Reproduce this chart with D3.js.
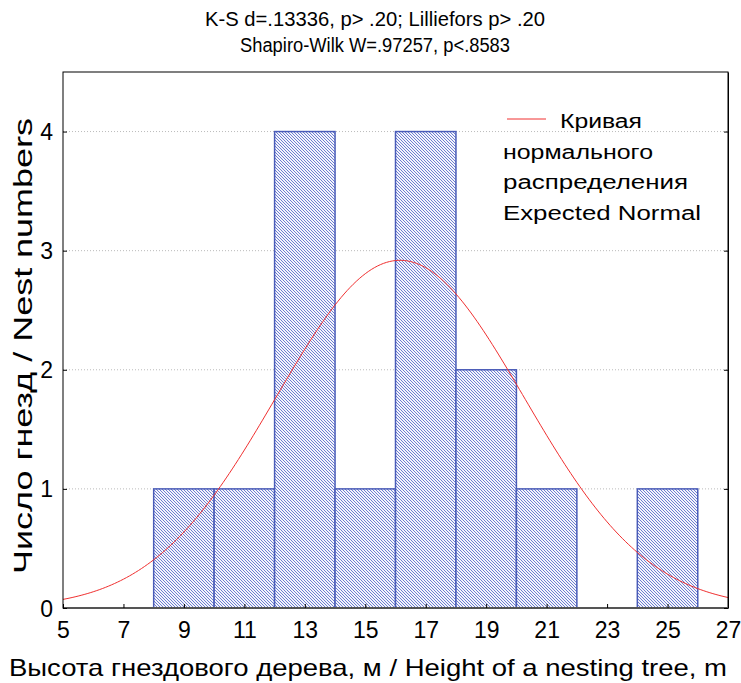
<!DOCTYPE html>
<html>
<head>
<meta charset="utf-8">
<script src="https://cdn.jsdelivr.net/npm/d3@7"></script>
<style>
  body { margin: 0; background: #fff; }
  svg { font-family: "Liberation Sans", Arial, sans-serif; }
</style>
</head>
<body>
<div id="chart"></div>
<script>
// Histogram bins (height of nesting tree, m) and nest counts
const binStarts = [8, 10, 12, 14, 16, 18, 20, 22, 24];
const binWidth = 2;
const counts = [1, 1, 4, 1, 4, 2, 1, 0, 1];
const xTicks = [5, 7, 9, 11, 13, 15, 17, 19, 21, 23, 25, 27];
const yTicks = [0, 1, 2, 3, 4];
// fitted normal curve parameters
const fitMean = 16.15;
const fitSd = 4.1;
const titleLines = ["K-S d=.13336, p> .20; Lilliefors p> .20", "Shapiro-Wilk W=.97257, p<.8583"];
const legendLines = ["Кривая", "нормального", "распределения", "Expected Normal"];

const width = 741, height = 683;
const margins = { top: 72, right: 13, bottom: 75, left: 63 };
const innerWidth = width - margins.left - margins.right;
const innerHeight = height - margins.top - margins.bottom;

const svg = d3.select("#chart").append("svg")
  .attr("width", width)
  .attr("height", height);

const defs = svg.append("defs");
const pat = defs.append("pattern")
  .attr("id", "hatch")
  .attr("patternUnits", "userSpaceOnUse")
  .attr("width", 3)
  .attr("height", 3);
pat.append("rect").attr("width", 3).attr("height", 3).attr("fill", "#f4f5fb");
pat.append("path")
  .attr("d", "M-1,-1 L4,4 M-1,2 L1,4 M2,-1 L4,1")
  .attr("stroke", "#4257c4")
  .attr("stroke-width", 0.75);

const mainG = svg.append("g")
  .attr("transform", `translate(${margins.left},${margins.top})`);

const x = d3.scaleLinear().domain([5, 27]).range([0, innerWidth]);
const y = d3.scaleLinear().domain([0, 4.5]).range([innerHeight, 0]);

// Gridlines
mainG.append("g").selectAll("line")
  .data(yTicks.filter((d) => d > 0))
  .join("line")
  .attr("x1", 0).attr("x2", innerWidth)
  .attr("y1", (d) => y(d)).attr("y2", (d) => y(d))
  .attr("stroke", "#bbb")
  .attr("stroke-dasharray", "1,2");

// Bars
const bins = binStarts.map((s, i) => ({ x0: s, x1: s + binWidth, n: counts[i] }));
mainG.append("g").selectAll("rect")
  .data(bins.filter((d) => d.n > 0))
  .join("rect")
  .attr("x", (d) => x(d.x0))
  .attr("y", (d) => y(d.n))
  .attr("width", (d) => x(d.x1) - x(d.x0))
  .attr("height", (d) => y(0) - y(d.n))
  .attr("fill", "url(#hatch)")
  .attr("stroke", "#4a5cb8")
  .attr("stroke-width", 1.5);

// Expected normal curve
const total = d3.sum(counts);
const normal = (v) => total * binWidth / (fitSd * Math.sqrt(2 * Math.PI)) *
  Math.exp(-0.5 * ((v - fitMean) / fitSd) ** 2);
const curveX = d3.range(5, 27.001, 0.1);
mainG.append("path")
  .datum(curveX)
  .attr("d", d3.line().x((d) => x(d)).y((d) => y(normal(d))))
  .attr("fill", "none")
  .attr("stroke", "#f03030")
  .attr("stroke-width", 1);

// Frame
mainG.append("rect")
  .attr("width", innerWidth).attr("height", innerHeight)
  .attr("fill", "none").attr("stroke", "#000").attr("stroke-width", 1);
mainG.append("line")
  .attr("x1", 0).attr("x2", innerWidth)
  .attr("y1", innerHeight).attr("y2", innerHeight)
  .attr("stroke", "#555").attr("stroke-width", 2);

// Axes (inward ticks)
const xAxisG = mainG.append("g")
  .attr("transform", `translate(0,${innerHeight})`)
  .call(d3.axisBottom(x).tickValues(xTicks).tickSizeInner(-4).tickSizeOuter(0).tickPadding(14));
const yAxisG = mainG.append("g")
  .call(d3.axisLeft(y).tickValues(yTicks).tickFormat(d3.format("d"))
    .tickSizeInner(-4).tickSizeOuter(0).tickPadding(10));
mainG.append("g")
  .attr("transform", `translate(${innerWidth},0)`)
  .call(d3.axisRight(y).tickValues(yTicks).tickSizeInner(-4).tickSizeOuter(0).tickFormat(""));
[xAxisG, yAxisG].forEach((g) => {
  g.select(".domain").remove();
  g.selectAll("text").attr("font-size", "23px").attr("fill", "#000")
    .attr("font-family", "'Liberation Sans', Arial, sans-serif");
});
xAxisG.selectAll("text").attr("dy", "0.71em");
yAxisG.selectAll("text").attr("dy", "0.35em");

// Axis labels
svg.append("text")
  .attr("x", 368).attr("y", 676)
  .attr("text-anchor", "middle")
  .attr("font-size", "24px")
  .attr("textLength", 718)
  .attr("lengthAdjust", "spacingAndGlyphs")
  .text("Высота гнездового дерева, м / Height of a nesting tree, m");
svg.append("text")
  .attr("transform", "translate(32,346) rotate(-90)")
  .attr("text-anchor", "middle")
  .attr("font-size", "26px")
  .attr("textLength", 456)
  .attr("lengthAdjust", "spacingAndGlyphs")
  .text("Число гнезд / Nest numbers");

// Title
const titleWidths = [340, 270];
svg.append("g").selectAll("text")
  .data(titleLines)
  .join("text")
  .attr("x", 375)
  .attr("y", (d, i) => 26 + i * 26)
  .attr("text-anchor", "middle")
  .attr("font-size", "20px")
  .attr("textLength", (d, i) => titleWidths[i])
  .attr("lengthAdjust", "spacingAndGlyphs")
  .text((d) => d);

// Legend
const legendWidths = [82, 150, 185, 198];
const legendG = svg.append("g");
legendG.append("line")
  .attr("x1", 507).attr("x2", 546)
  .attr("y1", 119).attr("y2", 119)
  .attr("stroke", "#f03030").attr("stroke-width", 1);
legendG.selectAll("text")
  .data(legendLines)
  .join("text")
  .attr("x", (d, i) => i === 0 ? 560 : 503)
  .attr("y", (d, i) => 128 + i * 30.5)
  .attr("font-size", "20px")
  .attr("textLength", (d, i) => legendWidths[i])
  .attr("lengthAdjust", "spacingAndGlyphs")
  .text((d) => d);
</script>
</body>
</html>
